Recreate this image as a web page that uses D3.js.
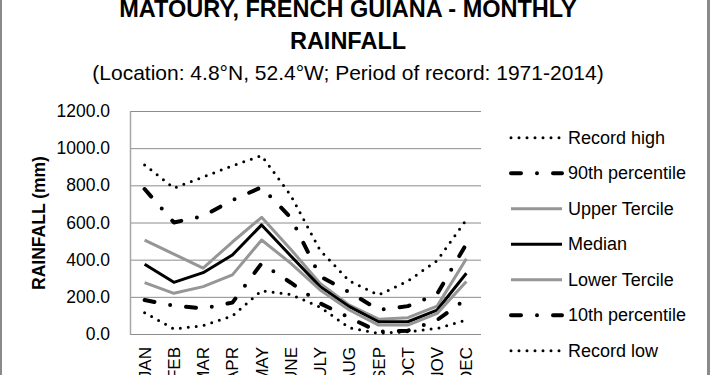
<!DOCTYPE html>
<html>
<head>
<meta charset="utf-8">
<script src="https://cdn.jsdelivr.net/npm/d3@7"></script>
<style>
  body { margin: 0; background: #fff; }
  svg { display: block; font-family: "Liberation Sans", Arial, sans-serif; }
</style>
</head>
<body>
<div class="viz"></div>
<script>
// monthly rainfall, Matoury (mm)
var months = ["JAN", "FEB", "MAR", "APR", "MAY", "JUNE", "JULY", "AUG", "SEP", "OCT", "NOV", "DEC"];
var record_high = [910, 785, 845, 905, 960, 745, 450, 285, 210, 285, 395, 615];
var p90 = [780, 600, 635, 720, 790, 625, 310, 225, 130, 150, 215, 485];
var upper_tercile = [505, 430, 355, 495, 628, 455, 272, 155, 80, 88, 150, 405];
var median = [375, 278, 330, 425, 587, 420, 255, 147, 66, 66, 129, 327];
var lower_tercile = [276, 219, 255, 318, 506, 380, 237, 129, 48, 48, 111, 282];
var p10 = [183, 152, 138, 169, 380, 276, 165, 88, 12, 18, 75, 190];
var record_low = [115, 27, 45, 97, 233, 212, 145, 33, 4, 12, 30, 75];
var y_ticks = [0, 200, 400, 600, 800, 1000, 1200];

var width = 710, height = 375;
var margin = {top: 111, right: 229, bottom: 41, left: 130};

var dotted = {color: "#000", width: 3, dash: "0,8"};
var dashdot = {color: "#000", width: 4, dash: "10,16,0,16"};
var grey = {color: "#969696", width: 3, dash: null};
var black = {color: "#000", width: 3, dash: null};

var series = [
    {name: "Record high", values: record_high, style: dotted},
    {name: "90th percentile", values: p90, style: dashdot},
    {name: "Upper Tercile", values: upper_tercile, style: grey},
    {name: "Median", values: median, style: black},
    {name: "Lower Tercile", values: lower_tercile, style: grey},
    {name: "10th percentile", values: p10, style: dashdot},
    {name: "Record low", values: record_low, style: dotted}
];

var svg = d3.select('.viz')
    .append('svg')
    .attr('width', width)
    .attr('height', height);

// chart frame (only the sides show in the crop)
svg.append('line').attr('x1', 1).attr('x2', 1).attr('y1', 0).attr('y2', height)
    .attr('stroke', '#8a8a8a').attr('stroke-width', 2);
svg.append('line').attr('x1', 708.5).attr('x2', 708.5).attr('y1', 0).attr('y2', height)
    .attr('stroke', '#8a8a8a').attr('stroke-width', 3);

var x = d3.scalePoint()
    .domain(months)
    .range([margin.left, width - margin.right])
    .padding(0.5);

var y = d3.scaleLinear()
    .domain([0, 1200])
    .range([height - margin.bottom, margin.top]);

// gridlines
svg.append('g')
    .attr('transform', `translate(${margin.left}, 0)`)
    .call(d3.axisLeft(y).tickValues(y_ticks).tickSize(-(width - margin.right - margin.left)).tickFormat(''))
    .call(g => g.select('.domain').remove())
    .selectAll('line')
    .attr('stroke', '#8c8c8c')
    .attr('stroke-width', 1);

// y axis
svg.append('g')
    .attr('transform', `translate(${margin.left}, 0)`)
    .call(d3.axisLeft(y).tickValues(y_ticks).tickSize(0).tickPadding(20).tickFormat(d3.format('.1f')))
    .call(g => g.select('.domain').attr('stroke', '#a6a6a6').attr('stroke-width', 1.5))
    .selectAll('text')
    .attr('font-size', '17.5px')
    .attr('fill', '#000')
    .attr('font-family', '"Liberation Sans", Arial, sans-serif');

// x axis, labels turned
svg.append('g')
    .attr('transform', `translate(0, ${y(0)})`)
    .call(d3.axisBottom(x).tickSize(0).tickPadding(0))
    .call(g => g.select('.domain').remove())
    .selectAll('text')
    .attr('font-size', '17px')
    .attr('fill', '#000')
    .attr('font-family', '"Liberation Sans", Arial, sans-serif')
    .style('text-anchor', 'end')
    .attr('dy', null)
    .attr('y', 0)
    .attr('dominant-baseline', 'central')
    .attr('transform', d => `translate(0, 13) rotate(-90)`);

// lines
var line = d3.line()
    .x((d, i) => x(months[i]))
    .y(d => y(d));

svg.selectAll('.series')
    .data(series)
    .enter()
    .append('path')
    .attr('class', 'series')
    .attr('d', d => line(d.values))
    .attr('fill', 'none')
    .attr('stroke', d => d.style.color)
    .attr('stroke-width', d => d.style.width)
    .attr('stroke-dasharray', d => d.style.dash)
    .attr('stroke-linecap', d => d.style.dash ? 'round' : 'butt')
    .attr('stroke-linejoin', 'round');

// legend
var legend = svg.selectAll('.legend')
    .data(series)
    .enter()
    .append('g')
    .attr('class', 'legend')
    .attr('transform', (d, i) => `translate(511, ${137.7 + i * 35.5})`);

legend.append('line')
    .attr('x1', 0)
    .attr('x2', 51)
    .attr('stroke', d => d.style.color)
    .attr('stroke-width', d => d.style.width)
    .attr('stroke-dasharray', d => d.style.dash)
    .attr('stroke-linecap', d => d.style.dash ? 'round' : 'butt');

legend.append('text')
    .attr('x', 57)
    .attr('dominant-baseline', 'central')
    .attr('font-size', '18px')
    .text(d => d.name);

// titles
svg.append('text')
    .attr('x', 348)
    .attr('y', 17)
    .attr('text-anchor', 'middle')
    .attr('font-weight', 'bold')
    .attr('font-size', '23.5px')
    .text('MATOURY, FRENCH GUIANA - MONTHLY');

svg.append('text')
    .attr('x', 348)
    .attr('y', 48.5)
    .attr('text-anchor', 'middle')
    .attr('font-weight', 'bold')
    .attr('font-size', '23.5px')
    .text('RAINFALL');

svg.append('text')
    .attr('x', 348)
    .attr('y', 80)
    .attr('text-anchor', 'middle')
    .attr('font-size', '21px')
    .text('(Location: 4.8°N, 52.4°W; Period of record: 1971-2014)');

svg.append('text')
    .attr('transform', 'translate(45, 223) rotate(-90)')
    .attr('text-anchor', 'middle')
    .attr('font-weight', 'bold')
    .attr('font-size', '17.5px')
    .text('RAINFALL (mm)');
</script>
</body>
</html>
